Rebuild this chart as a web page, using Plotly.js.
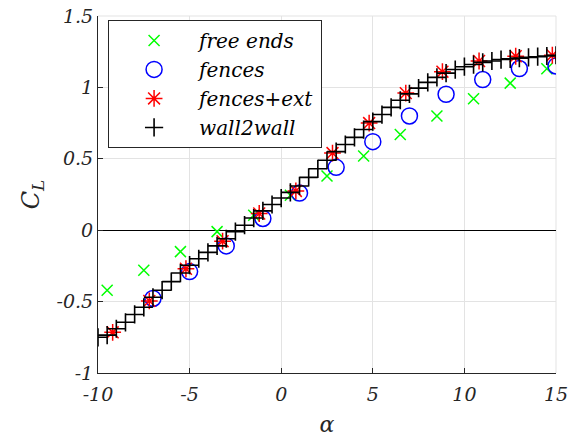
<!DOCTYPE html>
<html>
<head>
<meta charset="utf-8">
<script src="https://cdn.plot.ly/plotly-3.0.1.min.js"></script>
<style>html,body{margin:0;padding:0;background:#fff;}#chart{width:571px;height:437px;}</style>
</head>
<body>
<div id="chart"></div>
<script>
// ---- data ----
var freeAlpha = [-9.5, -7.5, -5.5, -3.5, -1.5, 0.5, 2.5, 4.5, 6.5, 8.5, 10.5, 12.5, 14.5];
var freeCL    = [-0.42, -0.28, -0.15, -0.01, 0.105, 0.245, 0.38, 0.52, 0.67, 0.80, 0.92, 1.03, 1.13];

var fenceAlpha = [-7, -5, -3, -1, 1, 3, 5, 7, 9, 11, 13, 15];
var fenceCL    = [-0.478, -0.29, -0.11, 0.082, 0.26, 0.44, 0.62, 0.80, 0.952, 1.055, 1.132, 1.15];

var extAlpha = [-9.2, -7.2, -5.2, -3.2, -1.2, 0.8, 2.8, 4.8, 6.8, 8.8, 10.8, 12.8, 14.8];
var extCL    = [-0.715, -0.495, -0.27, -0.077, 0.117, 0.275, 0.54, 0.75, 0.96, 1.11, 1.185, 1.218, 1.225];

var wallAlpha = [-10, -9.5, -9, -8.5, -8, -7.5, -7, -6.5, -6, -5.5, -5, -4.5, -4, -3.5, -3, -2.5, -2, -1.5, -1, -0.5,
                 0, 0.5, 1, 1.5, 2, 2.5, 3, 3.5, 4, 4.5, 5, 5.5, 6, 6.5, 7, 7.5, 8, 8.5, 9, 9.5,
                 10, 10.5, 11, 11.5, 12, 12.5, 13, 13.5, 14, 14.5, 15];
var wallCL    = [-0.75, -0.735, -0.69, -0.645, -0.59, -0.54, -0.47, -0.42, -0.36, -0.30, -0.245, -0.20, -0.155, -0.11, -0.06, -0.01, 0.035, 0.085, 0.135, 0.18,
                 0.225, 0.265, 0.31, 0.37, 0.43, 0.49, 0.55, 0.60, 0.65, 0.705, 0.76, 0.81, 0.86, 0.91, 0.955, 0.995, 1.035, 1.07, 1.10, 1.125,
                 1.145, 1.16, 1.175, 1.185, 1.195, 1.20, 1.205, 1.21, 1.215, 1.22, 1.225];

var seriesNames = ['free ends', 'fences', 'fences+ext', 'wall2wall'];

var xTickVals = [-10, -5, 0, 5, 10, 15];
var xTickText = ['-10', '-5', '0', '5', '10', '15'];
var yTickVals = [-1, -0.5, 0, 0.5, 1, 1.5];
var yTickText = ['-1', '-0.5', '0', '0.5', '1', '1.5'];

var FONT = '"DejaVu Serif", "Noto Serif", serif';

var traces = [
  {x: freeAlpha, y: freeCL, name: seriesNames[0], mode: 'markers', type: 'scatter',
   marker: {symbol: 'x-thin-open', size: 11, color: '#00ff00', line: {color: '#00ff00', width: 1.5}}},
  {x: fenceAlpha, y: fenceCL, name: seriesNames[1], mode: 'markers', type: 'scatter',
   marker: {symbol: 'circle-open', size: 16, color: '#0000ff', line: {color: '#0000ff', width: 1.5}}},
  {x: extAlpha, y: extCL, name: seriesNames[2], mode: 'markers', type: 'scatter',
   marker: {symbol: 'asterisk-open', size: 14, color: '#ff0000', line: {color: '#ff0000', width: 1.5}}},
  {x: wallAlpha, y: wallCL, name: seriesNames[3], mode: 'markers', type: 'scatter',
   marker: {symbol: 'cross-thin-open', size: 13, color: '#000000', line: {color: '#000000', width: 1.6}}}
];

var layout = {
  width: 571, height: 437,
  margin: {l: 98, r: 15, t: 16, b: 64},
  paper_bgcolor: '#ffffff', plot_bgcolor: '#ffffff',
  font: {family: FONT, size: 19, color: '#262626'},
  showlegend: true,
  legend: {
    x: 0.022, y: 0.989, xanchor: 'left', yanchor: 'top',
    bgcolor: '#ffffff', bordercolor: '#262626', borderwidth: 1,
    font: {family: FONT, size: 20, color: '#000000', style: 'italic'},
    itemwidth: 80
  },
  xaxis: {
    range: [-10, 15], tickmode: 'array', tickvals: xTickVals, ticktext: xTickText,
    showgrid: true, gridcolor: '#e3e3e3', gridwidth: 1,
    zeroline: false, showline: true, linecolor: '#262626', linewidth: 1,
    ticks: 'inside', ticklen: 5, tickcolor: '#262626', ticklabelstandoff: 4,
    tickfont: {family: FONT, size: 19, color: '#262626', style: 'italic'},
    title: {text: 'α', font: {family: FONT, size: 22, color: '#262626', style: 'italic'}, standoff: 14}
  },
  yaxis: {
    range: [-1, 1.5], tickmode: 'array', tickvals: yTickVals, ticktext: yTickText,
    showgrid: true, gridcolor: '#e3e3e3', gridwidth: 1,
    zeroline: true, zerolinecolor: '#000000', zerolinewidth: 1,
    showline: true, linecolor: '#262626', linewidth: 1,
    ticks: 'inside', ticklen: 5, tickcolor: '#262626',
    tickfont: {family: FONT, size: 19, color: '#262626', style: 'italic'},
    title: {text: 'C<sub>L</sub>', font: {family: FONT, size: 24, color: '#262626', style: 'italic'}, standoff: 10}
  },
  shapes: [
    {type: 'line', xref: 'paper', yref: 'paper', x0: 0, x1: 1, y0: 1, y1: 1, line: {color: '#e3e3e3', width: 1}, layer: 'below'},
    {type: 'line', xref: 'paper', yref: 'paper', x0: 1, x1: 1, y0: 0, y1: 1, line: {color: '#e3e3e3', width: 1}, layer: 'below'}
  ]
};

Plotly.newPlot('chart', traces, layout, {displayModeBar: false, staticPlot: true});
</script>
</body>
</html>
